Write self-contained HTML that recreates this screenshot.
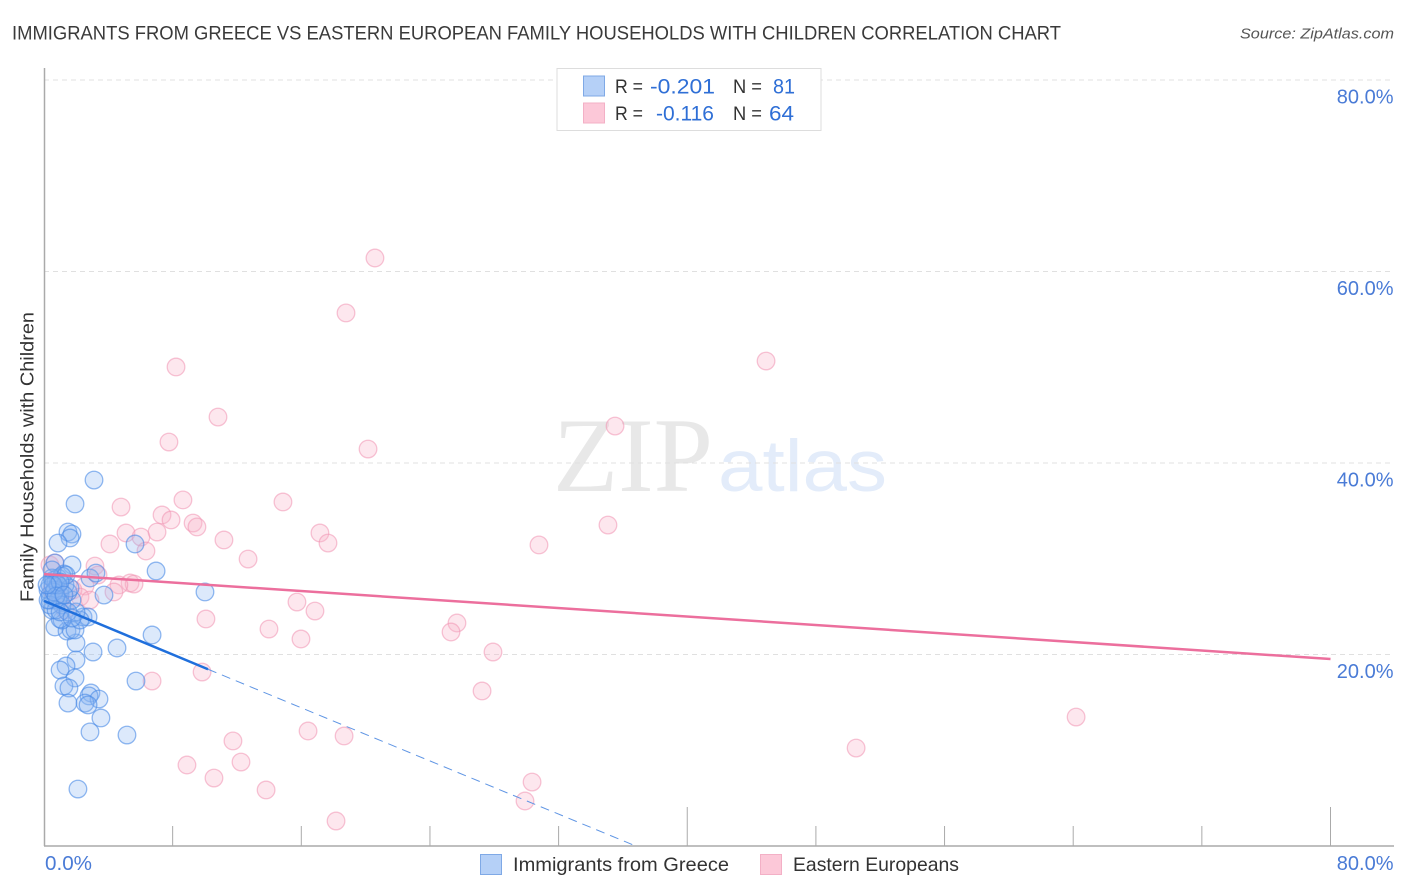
<!DOCTYPE html>
<html>
<head>
<meta charset="utf-8">
<style>
html,body{margin:0;padding:0;background:#fff;}
svg{display:block;font-family:"Liberation Sans",sans-serif;}
</style>
</head>
<body>
<svg id="chart" width="1406" height="892" viewBox="0 0 1406 892" xmlns="http://www.w3.org/2000/svg">
  <text x="12" y="39.5" font-size="19.5" fill="#3a3a3a" textLength="1049" lengthAdjust="spacingAndGlyphs">IMMIGRANTS FROM GREECE VS EASTERN EUROPEAN FAMILY HOUSEHOLDS WITH CHILDREN CORRELATION CHART</text>
  <text x="1394" y="38.5" font-size="15" font-style="italic" fill="#555" text-anchor="end" textLength="154" lengthAdjust="spacingAndGlyphs">Source: ZipAtlas.com</text>
  <g>
    <text x="553" y="491" font-family="'Liberation Serif',serif" font-size="106" fill="#e8e8e8" textLength="160" lengthAdjust="spacingAndGlyphs">ZIP</text>
    <text x="718" y="491" font-size="73" fill="#e3ecfa" textLength="169" lengthAdjust="spacingAndGlyphs">atlas</text>
  </g>
  <g id="grid"></g>
  <g id="axes"></g>
  <g id="points"></g>
  <g id="trends"></g>
  <text transform="translate(33.5,457) rotate(-90)" font-size="18.5" fill="#333" text-anchor="middle" textLength="290" lengthAdjust="spacingAndGlyphs">Family Households with Children</text>

  <g>
    <rect x="557" y="68.500" width="264" height="62" fill="#fff" stroke="#ddd" stroke-width="1"/>
    <rect x="583.500" y="76" width="21" height="20" fill="#b5d0f7" stroke="#7fa9e6"/>
    <rect x="583.500" y="103" width="21" height="20" fill="#fcc8d8" stroke="#f3b0c6"/>
    <g fill="#333" font-size="19">
      <text x="615" y="93" textLength="28" lengthAdjust="spacingAndGlyphs">R =</text>
      <text x="733" y="93" textLength="29" lengthAdjust="spacingAndGlyphs">N =</text>
      <text x="615" y="120" textLength="28" lengthAdjust="spacingAndGlyphs">R =</text>
      <text x="733" y="120" textLength="29" lengthAdjust="spacingAndGlyphs">N =</text>
    </g>
    <g font-size="21.500" fill="#2f6fd6">
      <text x="650" y="93.500" textLength="65" lengthAdjust="spacingAndGlyphs">-0.201</text>
      <text x="773" y="93.500" textLength="22" lengthAdjust="spacingAndGlyphs">81</text>
      <text x="656" y="120.500" textLength="58" lengthAdjust="spacingAndGlyphs">-0.116</text>
      <text x="769" y="120.500" textLength="25" lengthAdjust="spacingAndGlyphs">64</text>
    </g>
  </g>

  <g>
    <rect x="480.500" y="854.500" width="21" height="20" fill="#b5d0f7" stroke="#7fa9e6"/>
    <text x="513" y="871" font-size="19.500" fill="#333" textLength="216" lengthAdjust="spacingAndGlyphs">Immigrants from Greece</text>
    <rect x="760.500" y="854.500" width="21" height="20" fill="#fcc8d8" stroke="#f3b0c6"/>
    <text x="793" y="871" font-size="19.500" fill="#333" textLength="166" lengthAdjust="spacingAndGlyphs">Eastern Europeans</text>
  </g>
</svg>
<script>
const yTickValues = [20, 40, 60, 80];
const yTickLabels = ["20.0%", "40.0%", "60.0%", "80.0%"];
const xTickValues = [0, 8, 16, 24, 32, 40, 48, 56, 64, 72, 80];
const xMajorTicks = [40, 80];
const xEdgeValues = [0, 80];
const xEdgeLabels = ["0.0%", "80.0%"];

const greeceX = [3.11,1.93,1.49,1.74,1.62,0.87,5.66,6.97,0.68,1.74,1.24,2.86,3.23,10.01,3.73,6.72,4.54,3.05,1.99,1.99,1.37,1.00,1.93,5.72,1.24,1.55,2.92,2.80,3.42,1.49,2.55,2.74,3.54,2.86,5.16,2.11,
  0.68,1.43,1.68,1.93,1.12,1.00,2.43,2.74,2.24,1.99,1.74,1.49,1.00,0.68,0.50,0.37,0.25,0.37,0.62,0.87,1.12,0.75,0.50,0.37,0.68,1.00,1.31,0.50,0.87,1.12,0.37,0.75,1.62,1.37,0.25,0.62,0.87,0.56,1.00,0.75,0.19,1.24,1.49,1.00,1.74];
const greeceY = [38.22,35.72,32.79,32.58,32.17,31.64,31.54,28.72,29.56,29.35,28.41,27.99,28.51,26.53,26.21,22.04,20.68,20.26,21.20,19.43,18.80,18.38,17.55,17.23,16.71,16.50,15.98,15.67,15.35,14.93,14.93,14.73,13.37,11.91,11.59,5.95,
  22.87,22.45,22.56,22.56,23.60,23.71,23.92,23.92,23.60,24.44,25.69,26.53,26.74,25.69,24.65,25.69,26.74,27.26,27.78,27.99,28.20,27.57,27.99,26.21,26.74,26.21,27.26,28.83,25.69,25.17,25.17,24.65,26.95,28.30,25.69,26.53,27.26,27.26,27.57,26.11,27.26,26.21,24.44,24.44,23.81];

const easternX = [20.58,18.78,8.21,44.90,10.82,35.51,7.77,20.15,8.64,14.86,4.79,7.34,7.90,9.27,9.51,5.10,6.03,7.03,17.16,17.66,11.19,4.10,6.34,30.78,35.07,12.69,3.17,3.36,5.35,5.60,4.66,4.35,2.55,15.73,16.85,13.99,10.07,15.98,25.68,25.31,27.92,6.72,9.83,27.24,64.18,50.50,16.42,18.66,11.75,8.89,12.25,10.57,13.81,30.35,29.91,18.16,1.80,1.00,0.37,0.68,2.24,2.86,1.31,0.50];
const easternY = [61.41,55.67,50.03,50.65,44.80,43.86,42.19,41.46,36.14,35.93,35.40,34.57,34.05,33.73,33.32,32.69,32.27,32.79,32.69,31.64,31.96,31.54,30.81,31.44,33.52,29.97,29.24,28.30,27.47,27.36,27.26,26.53,27.15,25.48,24.54,22.66,23.71,21.62,23.29,22.35,20.26,17.23,18.17,16.19,13.47,10.23,12.01,11.49,10.97,8.46,8.77,7.10,5.85,6.68,4.70,2.61,26.74,25.69,29.35,29.56,26.00,25.69,24.65,26.74];

const greeceTrendX = [0, 10.2];
const greeceTrendY = [25.6, 18.46];
const greeceDashX = [10.2, 36.8];
const greeceDashY = [18.46, 0];
const easternTrendX = [0, 80];
const easternTrendY = [28.4, 19.53];

const NS = "http://www.w3.org/2000/svg";
const xScale = v => 44 + v * (1330.5 - 44) / 80;
const yScale = v => 846 - v * (846 - 80) / 80;

function make(parent, tag, attrs, text) {
  const el = document.createElementNS(NS, tag);
  for (const k in attrs) el.setAttribute(k, attrs[k]);
  if (text !== undefined) el.textContent = text;
  parent.appendChild(el);
  return el;
}

const grid = document.getElementById("grid");
const axes = document.getElementById("axes");
const points = document.getElementById("points");
const trends = document.getElementById("trends");

yTickValues.forEach((v, i) => {
  const line = make(grid, "line", {x1: 44, x2: 1394, y1: yScale(v), y2: yScale(v), stroke: "#e0e0e0", "stroke-width": 1, "stroke-dasharray": "5 4"});
  
  
  const label = make(axes, "text", {x: 1393.5, y: yScale(v) + 23.5, "font-size": 20, fill: "#4a7bd6", "text-anchor": "end"}, yTickLabels[i]);
  
  
});

const yAxisLine = make(axes, "line", {x1: 44.5, x2: 44.5, y1: 68, y2: 846, stroke: "#aaa", "stroke-width": 1.5});


const xAxisLine = make(axes, "line", {x1: 44, x2: 1394, y1: 846, y2: 846, stroke: "#aaa", "stroke-width": 1.5});



xTickValues.forEach(v => {
  if (v === 0) return;
  const top = xMajorTicks.includes(v) ? 807 : 826;
  const tick = make(axes, "line", {x1: xScale(v), x2: xScale(v), y1: top, y2: 846, stroke: "#aaa", "stroke-width": 1});
  
  
});

const xLabelLeft = make(axes, "text", {x: xScale(xEdgeValues[0]) + 1, y: 870, "font-size": 20, fill: "#4a7bd6", textLength: 47, lengthAdjust: "spacingAndGlyphs"}, xEdgeLabels[0]);


const xLabelRight = make(axes, "text", {x: 1393.5, y: 870, "font-size": 20, fill: "#4a7bd6", "text-anchor": "end"}, xEdgeLabels[1]);



easternX.forEach((v, i) => {
  const c = make(points, "circle", {cx: xScale(v), cy: yScale(easternY[i]), r: 8.8, fill: "#f9b4c9", "fill-opacity": 0.32, stroke: "#f093b2", "stroke-opacity": 0.55, "stroke-width": 1.3});
  
  
});
greeceX.forEach((v, i) => {
  const c = make(points, "circle", {cx: xScale(v), cy: yScale(greeceY[i]), r: 8.8, fill: "#8ab6f2", "fill-opacity": 0.3, stroke: "#4a8ae6", "stroke-opacity": 0.6, "stroke-width": 1.3});
  
  
});

const easternLine = make(trends, "line", {x1: xScale(easternTrendX[0]), y1: yScale(easternTrendY[0]), x2: xScale(easternTrendX[1]), y2: yScale(easternTrendY[1]), stroke: "#ec6f9d", "stroke-width": 2.5});


const greeceLine = make(trends, "line", {x1: xScale(greeceTrendX[0]), y1: yScale(greeceTrendY[0]), x2: xScale(greeceTrendX[1]), y2: yScale(greeceTrendY[1]), stroke: "#1f6fdc", "stroke-width": 2.5});


const greeceDash = make(trends, "line", {x1: xScale(greeceDashX[0]), y1: yScale(greeceDashY[0]), x2: xScale(greeceDashX[1]), y2: yScale(greeceDashY[1]), stroke: "#5f95e4", "stroke-width": 1, "stroke-dasharray": "9 6"});


</script>
</body>
</html>
